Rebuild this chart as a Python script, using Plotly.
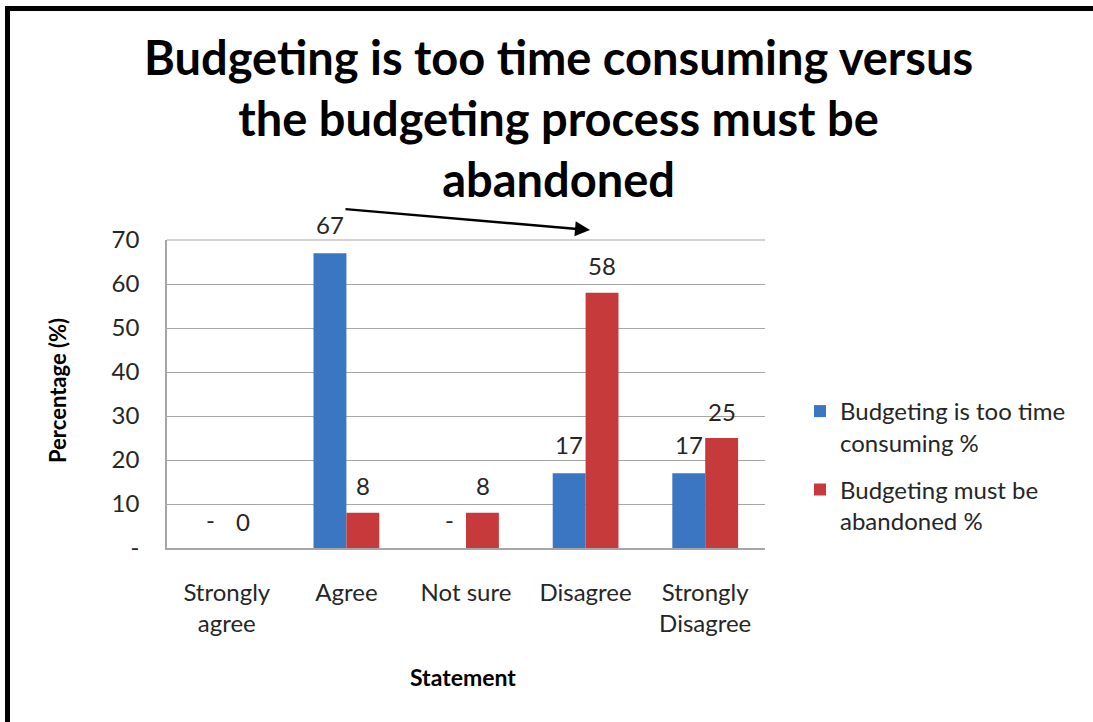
import plotly.graph_objects as go

categories = ["Strongly<br>agree", "Agree", "Not sure", "Disagree", "Strongly<br>Disagree"]
time_consuming = [0, 67, 0, 17, 17]
must_abandon = [0, 8, 8, 58, 25]
time_labels = ["-", "67", "-", "17", "17"]
abandon_labels = ["0", "8", "8", "58", "25"]
y_ticks = [0, 10, 20, 30, 40, 50, 60, 70]
y_ticktext = ["-", "10", "20", "30", "40", "50", "60", "70"]

W, H = 1093, 722
L, R, T, B = 167, 328, 240, 174
PW, PH = W - L - R, H - T - B


def px(x):
    return (x - L) / PW


def py(y):
    return (H - B - y) / PH


FONT = "Lato, Carlito, Calibri, sans-serif"
TXT = "#262626"
SZ = 24

fig = go.Figure()
fig.add_trace(go.Bar(
    x=categories, y=time_consuming, name="Budgeting is too time<br>consuming %",
    legendgroup="time", marker=dict(color="#3A76C2", line=dict(width=0)),
))
fig.add_trace(go.Bar(
    x=categories, y=must_abandon, name="Budgeting must be<br>abandoned %",
    legendgroup="abandon", marker=dict(color="#C73A3B", line=dict(width=0)),
))

# value labels sit above each bar of its group
half_bar = 16.5
for cat, v, t in zip(categories, time_consuming, time_labels):
    fig.add_annotation(x=cat, y=v, text=t, xref="x", yref="y", showarrow=False,
                       xshift=-half_bar, yshift=29, xanchor="center", yanchor="middle",
                       font=dict(size=SZ, color=TXT, family=FONT))
for cat, v, t in zip(categories, must_abandon, abandon_labels):
    fig.add_annotation(x=cat, y=v, text=t, xref="x", yref="y", showarrow=False,
                       xshift=half_bar, yshift=27, xanchor="center", yanchor="middle",
                       font=dict(size=SZ, color=TXT, family=FONT))

fig.update_layout(
    width=W, height=H,
    margin=dict(l=L, r=R, t=T, b=B, autoexpand=False),
    paper_bgcolor="white", plot_bgcolor="white",
    barmode="group", bargap=0.45, bargroupgap=0,
    font=dict(family=FONT, color=TXT, size=SZ),
    showlegend=True,
    legend=dict(x=px(800), y=py(389), xanchor="left", yanchor="top", valign="top",
                font=dict(size=SZ, color=TXT, family=FONT),
                itemsizing="constant", tracegroupgap=13, bgcolor="rgba(0,0,0,0)"),
    xaxis=dict(showgrid=False, showline=True, linecolor="#A6A6A6", linewidth=1.5,
               ticks="", tickfont=dict(size=SZ, color=TXT), ticklabelstandoff=22),
    yaxis=dict(range=[0, 70], tickvals=y_ticks, ticktext=y_ticktext,
               showgrid=True, gridcolor="#A6A6A6", gridwidth=1.2,
               showline=True, linecolor="#A6A6A6", linewidth=1.5,
               ticks="", tickfont=dict(size=SZ, color=TXT), ticklabelstandoff=21,
               zeroline=False),
)

# top gridline at 70 closes the plot frame
fig.add_shape(type="line", xref="paper", yref="paper", x0=0, x1=1, y0=1, y1=1,
              line=dict(color="#A6A6A6", width=1.2))

# heavy frame along the top and left edges
fig.add_shape(type="line", xref="paper", yref="paper",
              x0=px(7.5), x1=px(1100), y0=py(8.5), y1=py(8.5),
              line=dict(color="black", width=5))
fig.add_shape(type="line", xref="paper", yref="paper",
              x0=px(7.5), x1=px(7.5), y0=py(6), y1=py(730),
              line=dict(color="black", width=5))

fig.add_annotation(
    text="<b>Budgeting is too time consuming versus<br>the budgeting process must be<br>abandoned</b>",
    xref="paper", yref="paper", x=px(558), y=py(27), xanchor="center", yanchor="top",
    showarrow=False, font=dict(size=47, color="black", family=FONT))

fig.add_annotation(text="<b>Percentage (%)</b>", xref="paper", yref="paper",
                   x=px(57), y=py(391), xanchor="center", yanchor="middle",
                   textangle=-90, showarrow=False,
                   font=dict(size=22, color="black", family=FONT))
fig.add_annotation(text="<b>Statement</b>", xref="paper", yref="paper",
                   x=px(463), y=py(677), xanchor="center", yanchor="middle",
                   showarrow=False, font=dict(size=23, color="black", family=FONT))

# arrow pointing from the Agree peak toward the Disagree peak
fig.add_annotation(text="", xref="paper", yref="paper", x=px(590), y=py(230),
                   ax=-246, ay=-21, showarrow=True, arrowhead=2, arrowsize=1.2,
                   arrowwidth=2.5, arrowcolor="black")

fig.write_html("out.html")
